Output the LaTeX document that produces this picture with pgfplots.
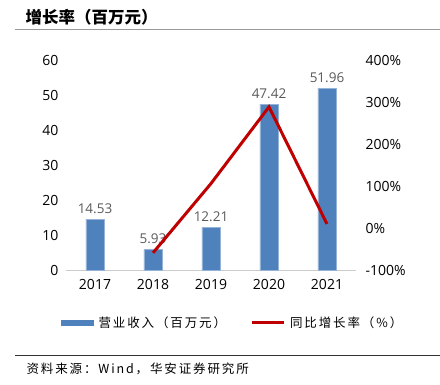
\documentclass[border=0pt]{standalone}
\usepackage{pgfplots}
\pgfplotsset{compat=1.18}
\usepackage{fontspec}
\setmainfont{Open Sans}
\newfontfamily\cjk{Noto Sans CJK SC}
\newfontfamily\cjkls[LetterSpace=15]{Noto Sans CJK SC}
\definecolor{barblue}{RGB}{79,129,189}
\definecolor{linered}{RGB}{192,0,0}
\definecolor{txtgray}{RGB}{89,89,89}
\begin{document}
\begin{tikzpicture}[x=1pt,y=1pt]
\useasboundingbox (0,0) rectangle (440,-384);
\node[anchor=west,font=\cjk\bfseries\fontsize{16.5}{18}\selectfont] at (22,-17) {增长率（百万元）};
\draw[gray!80,line width=0.8pt] (15,-29) -- (440,-29);
\draw[black!80,line width=0.8pt] (15,-355) -- (440,-355);
\node[anchor=west,font=\cjkls\fontsize{12.5}{15}\selectfont] at (23,-369) {资料来源：Wind，华安证券研究所};
\begin{axis}[
  at={(66pt,-270pt)}, anchor=south west,
  scale only axis, width=290pt, height=210pt,
  xmin=-0.5, xmax=4.5, ymin=0, ymax=60,
  ytick={0,10,...,60},
  xtick={0,1,2,3,4}, xticklabels={2017,2018,2019,2020,2021},
  axis x line*=bottom, axis y line*=left,
  x axis line style={draw=gray!40,line width=1pt},
  y axis line style={draw=none},
  major tick length=0pt,
  tick label style={font=\fontsize{14}{16}\selectfont, text=black},
  /pgf/number format/assume math mode=true,
  yticklabel style={xshift=-4pt},
  xticklabel style={yshift=-6pt},
  legend style={at={(0.575,-0.25)}, anchor=center, draw=none, legend columns=2,
     font=\cjkls\fontsize{12.5}{15}\selectfont, column sep=3pt,
     /tikz/every even column/.append style={column sep=22pt}},
  legend image code/.code={\fill[barblue] (0pt,-2.5pt) rectangle (32pt,2.5pt);},
  clip=false,
]
\addplot[ybar, bar width=18pt, fill=barblue, draw=barblue!60!white,
  nodes near coords, nodes near coords style={font=\fontsize{13.5}{15}\selectfont, text=txtgray, yshift=2pt},
  point meta=explicit symbolic]
  coordinates {(0,14.53)[14.53] (1,5.93)[5.93] (2,12.21)[12.21] (3,47.42)[47.42] (4,51.96)[51.96]};
\addlegendentry{营业收入（百万元）}
\addlegendimage{legend image code/.code={\draw[linered,line width=3pt] (0pt,0pt) -- (32pt,0pt);}}
\addlegendentry{同比增长率（\%）}
\end{axis}
\begin{axis}[
  at={(66pt,-270pt)}, anchor=south west,
  scale only axis, width=290pt, height=210pt,
  xmin=-0.5, xmax=4.5, ymin=-100, ymax=400,
  ytick={-100,0,...,400},
  yticklabel={\pgfmathprintnumber{\tick}\%},
  axis y line*=right, hide x axis,
  y axis line style={draw=none},
  major tick length=0pt,
  tick label style={font=\fontsize{14}{16}\selectfont, text=black},
  /pgf/number format/assume math mode=true,
  yticklabel style={xshift=6pt},
]
\addplot[linered, line width=3pt, mark=none] coordinates {(1,-59.2) (2,105.9) (3,288.4) (4,9.6)};
\end{axis}
\end{tikzpicture}
\end{document}
